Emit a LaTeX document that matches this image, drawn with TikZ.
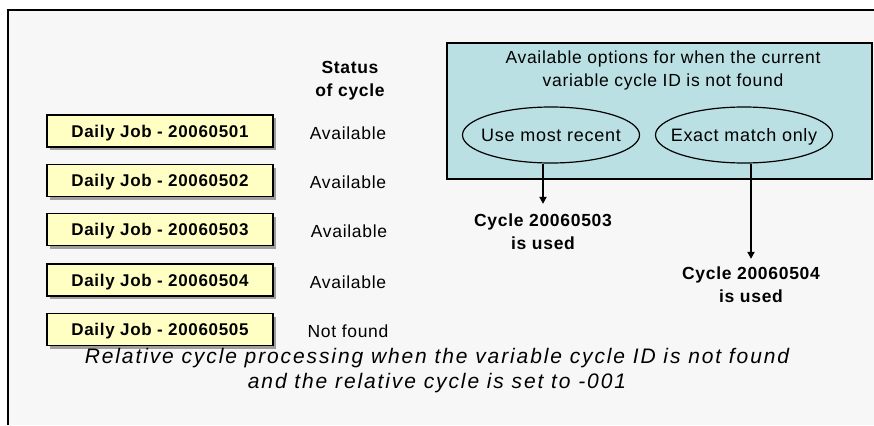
\documentclass[tikz,border=0pt]{standalone}
\usepackage{fontspec}
\setmainfont{Liberation Sans}[LetterSpace=4]
\newfontfamily\capfont{Liberation Sans}[LetterSpace=9]
\usetikzlibrary{shapes.geometric,arrows.meta}
\definecolor{jobfill}{RGB}{255,255,196}
\definecolor{optfill}{RGB}{186,224,228}
\definecolor{panel}{RGB}{247,247,247}
\tikzset{
  jobbox/.style={draw=black, line width=1.2pt, fill=jobfill, minimum width=226pt,
    minimum height=32pt, inner sep=0pt, text height=12.2pt, text depth=0pt,
    font=\fontsize{17}{20}\selectfont\bfseries},
  jobshadow/.style={fill=gray!75, draw=none, minimum width=226pt, minimum height=32pt},
  statustext/.style={font=\fontsize{17.5}{20}\selectfont, inner sep=0pt,
    text height=12.5pt, text depth=0pt},
  optellipse/.style={ellipse, draw=black, line width=1.2pt, minimum width=177pt,
    minimum height=56pt, inner sep=0pt},
  opttext/.style={inner sep=0pt, text height=12.8pt, text depth=0pt,
    font=\fontsize{18}{21}\selectfont},
  resulttext/.style={align=center, inner sep=0pt, font=\fontsize{17.5}{23}\selectfont\bfseries},
  flow/.style={line width=1.8pt, -{Triangle[length=7pt,width=7pt]}}
}
\begin{document}
\begin{tikzpicture}[x=1pt,y=-1pt]
  \useasboundingbox (0,0) rectangle (874,425);
  % outer panel
  \fill[panel] (8,10) rectangle (874,425);
  \draw[line width=1.5pt] (8,425) -- (8,10) -- (874,10);

  % column heading
  \node[resulttext] (head) at (350,81) {Status\\of cycle};

  % job boxes with drop shadows and status labels
  \foreach \i/\y/\st/\sx in {1/131/Available/348, 2/180.5/Available/348, 3/229.5/Available/349, 4/280/Available/348, 5/329.5/Not found/348}{
    \node[jobshadow] at (163,\y+3) {};
    \node[jobbox] (job\i) at (160,\y) {Daily Job - 2006050\i};
    \node[statustext] (st\i) at (\sx,\y+2) {\st};
  }

  % options panel
  \node[draw=black, line width=1.2pt, fill=optfill, minimum width=425pt, minimum height=136pt,
    inner sep=0pt] (opts) at (659.5,111) {};
  \node[align=center, inner sep=0pt, font=\fontsize{17.5}{23}\selectfont] (optshead) at (663,70)
    {Available options for when the current\\variable cycle ID is not found};
  \node[optellipse] (recent) at (551,135) {};
  \node[opttext] (recenttext) at (recent.center) {Use most recent};
  \node[optellipse] (exact) at (744,135) {};
  \node[opttext] (exacttext) at (exact.center) {Exact match only};

  % outcomes
  \node[resulttext] (res1) at (543,232) {Cycle 20060503\\is used};
  \node[resulttext] (res2) at (751,285) {Cycle 20060504\\is used};
  \draw[flow] (recent.south -| res1.north) -- ([yshift=10pt]res1.north);
  \draw[flow] (exact.south -| res2.north) -- ([yshift=8pt]res2.north);

  % caption
  \node[align=center, inner sep=0pt, font=\fontsize{21}{25}\selectfont\capfont\itshape] (caption) at (437,371)
    {Relative cycle processing when the variable cycle ID is not found\\and the relative cycle is set to -001};
\end{tikzpicture}
\end{document}
